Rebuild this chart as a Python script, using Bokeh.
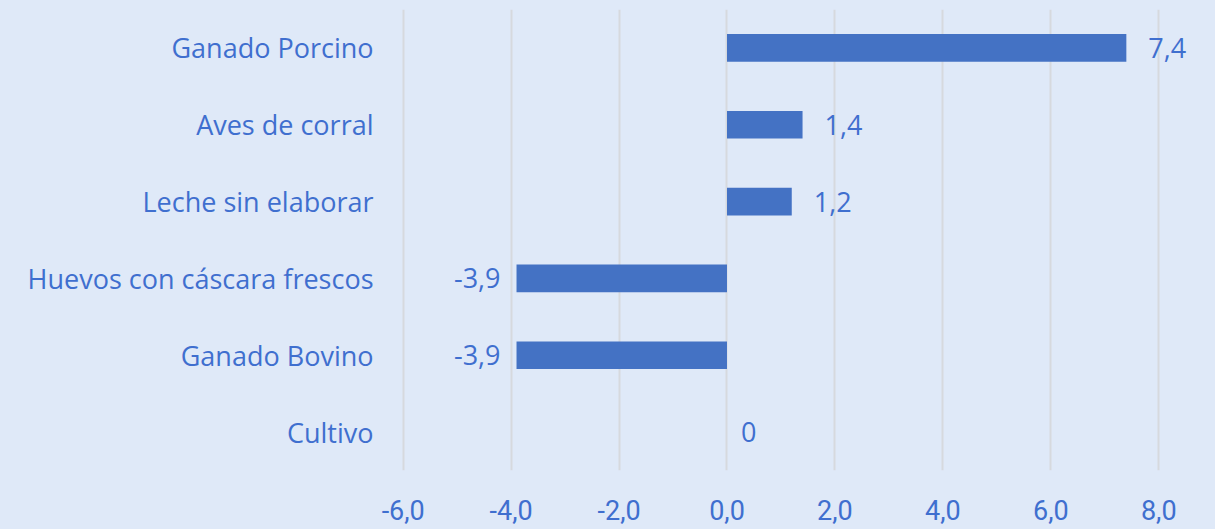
from bokeh.plotting import figure
from bokeh.models import ColumnDataSource, FixedTicker, Range1d
from bokeh.embed import file_html
from bokeh.resources import INLINE
from bokeh.core.properties import value

categories = ["Cultivo", "Ganado Bovino", "Huevos con cáscara frescos",
              "Leche sin elaborar", "Aves de corral", "Ganado Porcino"]
values = [0.0, -3.9, -3.9, 1.2, 1.4, 7.4]
labels = ["0", "-3,9", "-3,9", "1,2", "1,4", "7,4"]
ticks = [-6, -4, -2, 0, 2, 4, 6, 8]
tick_labels = ["-6,0", "-4,0", "-2,0", "0,0", "2,0", "4,0", "6,0", "8,0"]

BG = "#dfe9f8"
BLUE = "#4472c4"
TXT = "#3f6fcf"

p = figure(width=1199, height=529, y_range=categories, x_range=Range1d(-6.05, 8.7),
           output_backend="svg", toolbar_location=None,
           min_border_left=400, min_border_right=3, min_border_top=9, min_border_bottom=59)
p.background_fill_color = BG
p.border_fill_color = BG
p.outline_line_color = None

src = ColumnDataSource(dict(cat=categories, val=values, lab=labels))
p.hbar(y="cat", left=0, right="val", height=0.36, source=src,
       fill_color=BLUE, line_color=None)

pos = [i for i, v in enumerate(values) if v > 0]
neg = [i for i, v in enumerate(values) if v < 0]
zer = [i for i, v in enumerate(values) if v == 0]

def sub(idx):
    return ColumnDataSource(dict(cat=[categories[i] for i in idx],
                                 val=[values[i] for i in idx],
                                 lab=[labels[i] for i in idx]))

common = dict(text="lab", text_font=value("Open Sans"), text_font_size="27px",
              text_color=TXT, text_baseline="middle")
p.text(x="val", y="cat", source=sub(pos), x_offset=22, text_align="left", **common)
p.text(x="val", y="cat", source=sub(zer), x_offset=14, text_align="left", **common)
p.text(x="val", y="cat", source=sub(neg), x_offset=-16, text_align="right", **common)

p.xaxis.ticker = FixedTicker(ticks=ticks)
p.xaxis.major_label_overrides = {t: l for t, l in zip(ticks, tick_labels)}
p.xaxis.axis_line_color = None
p.xaxis.major_tick_line_color = None
p.xaxis.minor_tick_line_color = None
p.xaxis.major_label_standoff = 23
p.xaxis.major_label_text_font = "Roboto"
p.xaxis.major_label_text_font_size = "27px"
p.xaxis.major_label_text_color = TXT

p.yaxis.axis_line_color = None
p.yaxis.major_tick_line_color = None
p.yaxis.minor_tick_line_color = None
p.yaxis.major_label_standoff = 21
p.yaxis.major_label_text_font = "Open Sans"
p.yaxis.major_label_text_font_size = "27px"
p.yaxis.major_label_text_color = TXT

p.xgrid.grid_line_color = "#d6d9de"
p.xgrid.grid_line_width = 2
p.ygrid.grid_line_color = None

html = file_html(p, INLINE)
html = html.replace("<head>", "<head><style>body{background:%s;}</style>" % BG, 1)
open("out.html", "w").write(html)
